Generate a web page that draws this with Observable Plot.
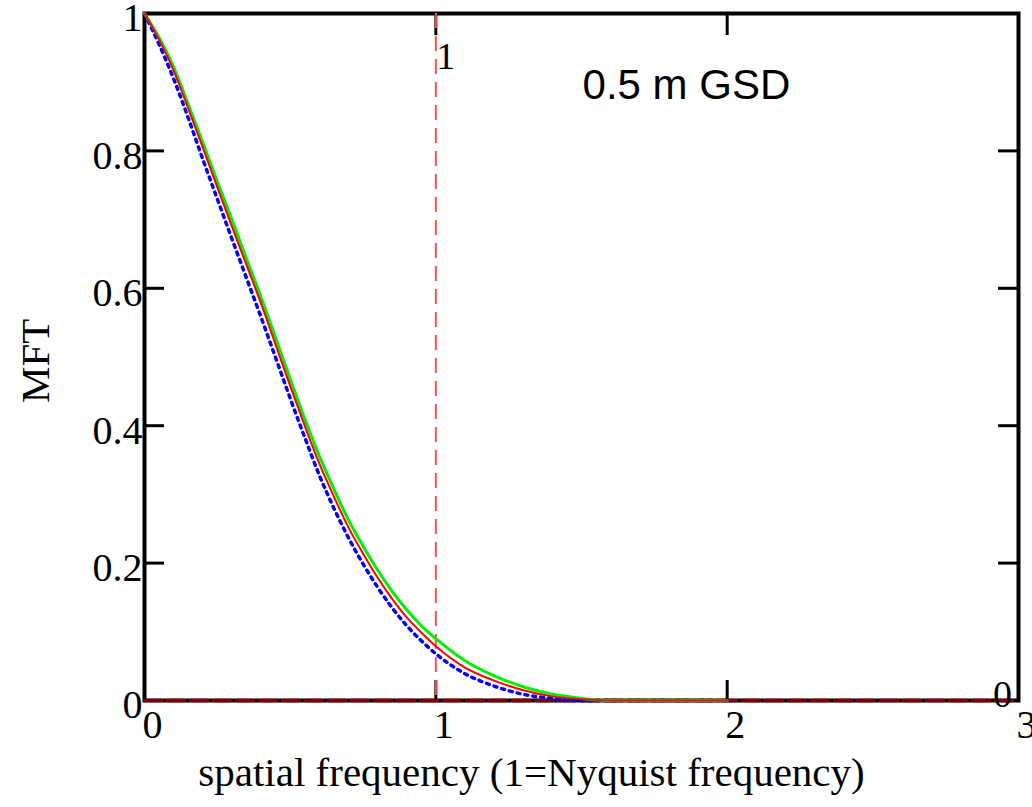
<!DOCTYPE html>
<html><head><meta charset="utf-8">
<script src="https://cdn.jsdelivr.net/npm/d3@7"></script>
<script src="https://cdn.jsdelivr.net/npm/@observablehq/plot@0.6"></script>
<style>body{margin:0;background:#fff} svg{display:block}</style>
</head><body><div id="chart"></div>
<script>
const freq     = [0, 0.05, 0.1, 0.15, 0.2, 0.25, 0.3, 0.35, 0.4, 0.45, 0.5, 0.55, 0.6, 0.65, 0.7, 0.75, 0.8, 0.85, 0.9, 0.95, 1.0, 1.1, 1.2, 1.3, 1.4, 1.5, 1.6, 2.0];
const mtfRed   = [1, 0.962, 0.917, 0.862, 0.805, 0.747, 0.690, 0.634, 0.578, 0.518, 0.458, 0.400, 0.345, 0.297, 0.252, 0.214, 0.179, 0.148, 0.121, 0.099, 0.079, 0.048, 0.029, 0.015, 0.006, 0.002, 0, 0];
const mtfGreen = [1, 0.965, 0.922, 0.868, 0.812, 0.755, 0.700, 0.643, 0.587, 0.528, 0.468, 0.410, 0.356, 0.308, 0.263, 0.225, 0.190, 0.159, 0.132, 0.109, 0.090, 0.058, 0.036, 0.020, 0.009, 0.003, 0, 0];
const mtfBlue  = [1, 0.955, 0.905, 0.848, 0.788, 0.730, 0.672, 0.615, 0.558, 0.499, 0.440, 0.383, 0.328, 0.280, 0.237, 0.199, 0.165, 0.135, 0.109, 0.087, 0.068, 0.039, 0.021, 0.009, 0.003, 0, 0, 0];
const zeroLineX = [0, 3];
const nyquistX = [1];
const xTickLabels = [0, 1, 2, 3];
const yTickLabels = [0, 0.2, 0.4, 0.6, 0.8, 1];
const xInnerTicks = [1, 2];
const yInnerTicks = [0.2, 0.4, 0.6, 0.8];
const xTitle = "spatial frequency (1=Nyquist frequency)";
const yTitle = "MFT";
const note = [{x: 1.86, y: 0.895, text: "0.5 m GSD"}];

const red = freq.map((f, i) => ({f, v: mtfRed[i]}));
const green = freq.map((f, i) => ({f, v: mtfGreen[i]}));
const blue = freq.map((f, i) => ({f, v: mtfBlue[i]}));
const zero = zeroLineX.map(f => ({f, v: 0}));

const serif = "Liberation Serif, Times New Roman, serif";
const chart = Plot.plot({
  width: 1032, height: 807,
  marginLeft: 144, marginRight: 14, marginTop: 13, marginBottom: 107,
  x: {domain: [0, 3], axis: null},
  y: {domain: [0, 1], axis: null},
  style: {background: "#fff"},
  marks: [
    Plot.frame({stroke: "#000", strokeWidth: 4}),
    Plot.tickX(xInnerTicks, {x: d => d, insetTop: 667, stroke: "#000", strokeWidth: 3}),
    Plot.tickX(xInnerTicks, {x: d => d, insetBottom: 665, stroke: "#000", strokeWidth: 3}),
    Plot.tickY(yInnerTicks, {y: d => d, insetRight: 854, stroke: "#000", strokeWidth: 3}),
    Plot.tickY(yInnerTicks, {y: d => d, insetLeft: 854, stroke: "#000", strokeWidth: 3}),
    Plot.ruleX(nyquistX, {x: d => d, stroke: "#ff5050", strokeWidth: 2, strokeDasharray: "15,8"}),
    Plot.line(zero, {x: "f", y: "v", stroke: "#800000", strokeWidth: 3.5, strokeDasharray: "17,6"}),
    Plot.line(blue, {x: "f", y: "v", stroke: "#0000ff", strokeWidth: 3.5, strokeDasharray: "3,5", curve: "monotone-x"}),
    Plot.line(green, {x: "f", y: "v", stroke: "#00ee00", strokeWidth: 3, curve: "monotone-x"}),
    Plot.line(red, {x: "f", y: "v", stroke: "#ff0000", strokeWidth: 2, curve: "monotone-x"}),
    Plot.text(yTickLabels, {y: d => d, text: d => String(d), frameAnchor: "left", textAnchor: "end", dx: -2, dy: 5, fontSize: 40, fontFamily: serif, fill: "#000"}),
    Plot.text(xTickLabels, {x: d => d, text: d => String(d), frameAnchor: "bottom", dx: 8, dy: 37, fontSize: 40, fontFamily: serif, fill: "#000"}),
    Plot.text(nyquistX, {x: d => d, text: () => "1", frameAnchor: "top", dx: 10, dy: 29, fontSize: 38, fontFamily: serif, fill: "#000"}),
    Plot.text([3], {x: d => d, text: () => "0", frameAnchor: "bottom", dx: -16, dy: 6, fontSize: 38, fontFamily: serif, fill: "#000"}),
    Plot.text([xTitle], {text: d => d, frameAnchor: "bottom", dx: -50, dy: 85, fontSize: 41, fontFamily: serif, fill: "#000"}),
    Plot.text([yTitle], {text: d => d, frameAnchor: "left", dx: -109, dy: 46, rotate: -90, fontSize: 41, fontFamily: serif, fill: "#000"}),
    Plot.text(note, {x: "x", y: "y", text: "text", fontSize: 42, fontFamily: "Liberation Sans, Arial, sans-serif", fill: "#000"})
  ]
});
document.getElementById("chart").appendChild(chart);
</script>
</body></html>
